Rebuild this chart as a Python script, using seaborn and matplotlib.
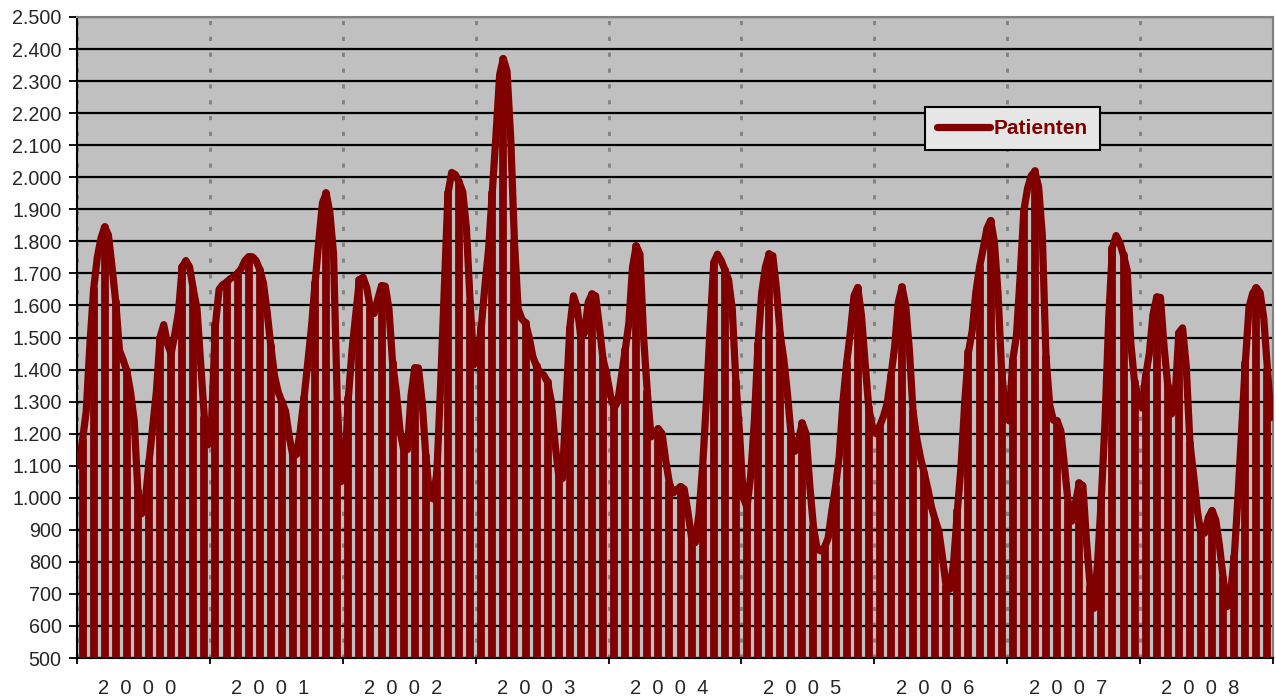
import numpy as np
import pandas as pd
import matplotlib
matplotlib.use("Agg")
import matplotlib.pyplot as plt
import seaborn as sns
from matplotlib.ticker import FixedLocator, FuncFormatter

# Patienten: 3 Werte pro Monat (Monatsanfang, -mitte, -ende)
jahre = [2000, 2001, 2002, 2003, 2004, 2005, 2006, 2007, 2008]

p2000 = [1100, 1180, 1270, 1480, 1650, 1750, 1810, 1845, 1820, 1720, 1610, 1460,
         1430, 1395, 1330, 1240, 1020, 950, 990, 1110, 1220, 1330, 1500, 1540,
         1480, 1450, 1510, 1580, 1720, 1740, 1720, 1650, 1590, 1420, 1250, 1165]
p2001 = [1250, 1540, 1650, 1665, 1672, 1683, 1690, 1700, 1715, 1740, 1752, 1752,
         1740, 1712, 1670, 1580, 1475, 1380, 1330, 1300, 1270, 1190, 1130, 1135,
         1210, 1310, 1420, 1530, 1670, 1800, 1920, 1950, 1890, 1760, 1300, 1050]
p2002 = [1080, 1310, 1460, 1570, 1680, 1688, 1655, 1590, 1575, 1620, 1662, 1660,
         1590, 1420, 1330, 1210, 1150, 1150, 1320, 1405, 1405, 1300, 1130, 1006,
         996, 1080, 1350, 1650, 1950, 2015, 2008, 1985, 1955, 1840, 1610, 1415]
p2003 = [1433, 1530, 1660, 1775, 1950, 2130, 2320, 2370, 2330, 2120, 1800, 1590,
         1558, 1545, 1500, 1440, 1410, 1390, 1382, 1360, 1300, 1170, 1070, 1060,
         1300, 1530, 1630, 1595, 1500, 1515, 1610, 1635, 1630, 1535, 1433, 1385]
p2004 = [1320, 1280, 1300, 1380, 1460, 1545, 1720, 1786, 1760, 1500, 1329, 1190,
         1200, 1215, 1200, 1115, 1045, 1015, 1025, 1035, 1027, 955, 875, 860,
         950, 1100, 1300, 1530, 1734, 1760, 1740, 1712, 1680, 1590, 1360, 1200]
p2005 = [1000, 970, 1069, 1240, 1480, 1640, 1720, 1760, 1755, 1650, 1510, 1430,
         1320, 1190, 1145, 1183, 1232, 1200, 1040, 910, 840, 834, 845, 875,
         960, 1035, 1130, 1300, 1420, 1516, 1630, 1656, 1570, 1420, 1280, 1220]
p2006 = [1200, 1225, 1255, 1295, 1380, 1470, 1610, 1657, 1600, 1460, 1267, 1185,
         1125, 1078, 1027, 970, 930, 895, 810, 720, 715, 800, 960, 1100,
         1300, 1454, 1520, 1640, 1720, 1777, 1840, 1865, 1800, 1640, 1392, 1270]
p2007 = [1240, 1430, 1506, 1690, 1895, 1965, 2005, 2018, 1970, 1820, 1440, 1290,
         1242, 1240, 1210, 1100, 985, 927, 985, 1045, 1038, 860, 720, 655,
         800, 1000, 1240, 1560, 1780, 1818, 1796, 1756, 1710, 1480, 1360, 1310]
p2008 = [1280, 1380, 1450, 1573, 1625, 1625, 1470, 1350, 1261, 1320, 1515, 1530,
         1410, 1170, 1070, 960, 885, 890, 939, 960, 930, 850, 750, 660,
         700, 815, 1000, 1210, 1420, 1594, 1638, 1655, 1640, 1560, 1400, 1250]

# monatlicher Tiefpunkt liegt unter der Achse (unter 500)
tiefpunkt = 0

werte = p2000 + p2001 + p2002 + p2003 + p2004 + p2005 + p2006 + p2007 + p2008
zeit = [j + (i + 0.5) / 36 for j in jahre for i in range(36)]
df = pd.DataFrame({"zeit": zeit, "Patienten": werte})

rot = "#800000"

sns.set_style("white")
plt.rcParams["font.family"] = ["Liberation Sans", "DejaVu Sans"]

fig = plt.figure(figsize=(12.76, 7.0), dpi=100)
ax = fig.add_axes([77 / 1276, 42 / 700, 1196 / 1276, 641 / 700])
ax.set_facecolor("#C0C0C0")

# Monatsmitte: Einbruch bis unter die Achse
mitte = df.iloc[1::3]
ax.vlines(mitte["zeit"], tiefpunkt, mitte["Patienten"], color=rot,
          linewidth=5.6, capstyle="round", zorder=3)
sns.lineplot(data=df, x="zeit", y="Patienten", ax=ax, color=rot,
             linewidth=5.2, label="Patienten", zorder=4,
             solid_joinstyle="round", solid_capstyle="round")

ax.set_xlim(2000, 2009)
ax.set_ylim(500, 2500)

# Achsen
ax.set_axisbelow(True)
ax.yaxis.set_major_locator(FixedLocator(np.arange(500, 2501, 100)))
ax.yaxis.set_major_formatter(FuncFormatter(lambda v, p: f"{v:,.0f}".replace(",", ".")))
ax.grid(axis="y", color="black", linewidth=1.6)
ax.xaxis.set_major_locator(FixedLocator(range(2000, 2010)))
ax.xaxis.set_major_formatter(FuncFormatter(lambda v, p: ""))
ax.set_xticks([j + 0.455 for j in jahre], ["  ".join(str(j)) for j in jahre], minor=True)
ax.grid(axis="x", which="major", color="#808080", linewidth=2.0,
        linestyle=(0, (1.5, 4.2)))

ax.tick_params(axis="y", direction="out", length=6, width=1.3, color="black",
               labelsize=14.2, pad=5, left=True)
ax.tick_params(axis="x", which="major", direction="out", length=4.5, width=1.3,
               color="black", bottom=True)
ax.tick_params(axis="x", which="minor", length=0, labelsize=14.5, pad=15)

for s in ["left", "bottom"]:
    ax.spines[s].set_color("black")
    ax.spines[s].set_linewidth(1.5)
for s in ["top", "right"]:
    ax.spines[s].set_color("#808080")
    ax.spines[s].set_linewidth(1.5)

ax.set_xlabel("")
ax.set_ylabel("")

leg = ax.legend(loc="upper left", bbox_to_anchor=(925 / 1276, 1 - 107 / 700),
                bbox_transform=fig.transFigure, frameon=True, fancybox=False,
                shadow=False, facecolor="#E6E6E6", edgecolor="black", framealpha=1,
                prop={"weight": "bold", "size": 15}, labelcolor=rot,
                handlelength=2.55, handletextpad=0.15, borderpad=0.58,
                borderaxespad=0)
leg.get_frame().set_linewidth(1.5)

fig.savefig("out.png", dpi=100)
